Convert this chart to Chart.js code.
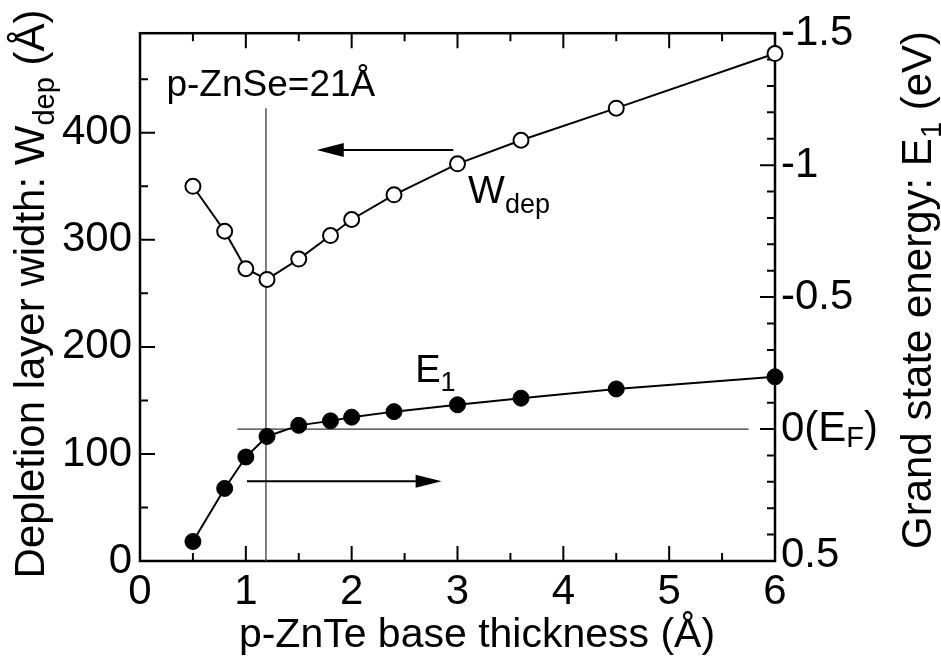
<!DOCTYPE html>
<html>
<head>
<meta charset="utf-8">
<script src="https://cdn.jsdelivr.net/npm/chart.js@4.4.0/dist/chart.umd.min.js"></script>
<style>
  html, body { margin: 0; padding: 0; background: #fff; }
  #wrap { position: relative; width: 941px; height: 657px; }
</style>
</head>
<body>
<div id="wrap"><canvas id="myChart"></canvas></div>
<script>
// data
const thickness = [0.5, 0.8, 1.0, 1.2, 1.5, 1.8, 2.0, 2.4, 3.0, 3.6, 4.5, 6.0];
const wDep = [350, 308, 273, 263, 282, 304, 319, 342, 371, 393, 423, 474];
const e1 = [0.426, 0.225, 0.106, 0.028, -0.014, -0.031, -0.045, -0.066, -0.092, -0.117, -0.152, -0.198];

// tick values / labels
const xTicks = [0, 1, 2, 3, 4, 5, 6];
const xMinor = [0.5, 1.5, 2.5, 3.5, 4.5, 5.5];
const leftTicks = [0, 100, 200, 300, 400];
const leftMinor = [50, 150, 250, 350, 450];
const rightTicks = [-1.5, -1, -0.5, 0, 0.5];
const rightTickLabels = ['-1.5', '-1', '-0.5', '0(E_{F})', '0.5'];
const rightMinor = [-1.4, -1.3, -1.2, -1.1, -0.9, -0.8, -0.7, -0.6, -0.4, -0.3, -0.2, -0.1, 0.1, 0.2, 0.3, 0.4];

// reference lines
const znSeThickness = 1.19;
const fermiLineX = [0.92, 5.75];

const FONT = '"Liberation Sans", Arial, Helvetica, sans-serif';

function richParts(str) {
  const parts = [];
  const re = /_\{([^}]*)\}/g;
  let last = 0, m;
  while ((m = re.exec(str)) !== null) {
    if (m.index > last) parts.push({ t: str.slice(last, m.index), sub: false });
    parts.push({ t: m[1], sub: true });
    last = re.lastIndex;
  }
  if (last < str.length) parts.push({ t: str.slice(last), sub: false });
  return parts;
}

function drawRich(ctx, str, x, y, size, align) {
  const parts = richParts(str);
  const subSize = Math.round(size * 0.7);
  let total = 0;
  parts.forEach(p => {
    ctx.font = (p.sub ? subSize : size) + 'px ' + FONT;
    p.w = ctx.measureText(p.t).width;
    total += p.w;
  });
  let cx = align === 'center' ? x - total / 2 : (align === 'right' ? x - total : x);
  ctx.textAlign = 'left';
  parts.forEach(p => {
    ctx.font = (p.sub ? subSize : size) + 'px ' + FONT;
    ctx.fillText(p.t, cx, p.sub ? y + size * 0.24 : y);
    cx += p.w;
  });
}

function arrow(ctx, x0, x1, y, headLen, headHalf) {
  const dir = Math.sign(x1 - x0);
  ctx.beginPath();
  ctx.moveTo(x0, y);
  ctx.lineTo(x1 - dir * headLen * 0.8, y);
  ctx.stroke();
  ctx.beginPath();
  ctx.moveTo(x1, y);
  ctx.lineTo(x1 - dir * headLen, y - headHalf);
  ctx.lineTo(x1 - dir * headLen, y + headHalf);
  ctx.closePath();
  ctx.fill();
}

const framePlugin = {
  id: 'frame',
  beforeDatasetsDraw(chart) {
    const ctx = chart.ctx;
    const a = chart.chartArea;
    const sx = chart.scales.x, sy = chart.scales.y, sy2 = chart.scales.y2;
    ctx.save();
    ctx.strokeStyle = '#000';
    ctx.lineWidth = 2.5;
    ctx.strokeRect(a.left, a.top, a.right - a.left, a.bottom - a.top);
    ctx.lineWidth = 2;
    ctx.beginPath();
    const xt = (vals, len) => vals.forEach(v => {
      const p = sx.getPixelForValue(v);
      ctx.moveTo(p, a.bottom); ctx.lineTo(p, a.bottom - len);
      ctx.moveTo(p, a.top); ctx.lineTo(p, a.top + len);
    });
    xt(xTicks, 15); xt(xMinor, 8);
    leftTicks.concat(leftMinor).forEach(v => {
      const p = sy.getPixelForValue(v);
      const len = leftTicks.includes(v) ? 15 : 8;
      ctx.moveTo(a.left, p); ctx.lineTo(a.left + len, p);
    });
    rightTicks.concat(rightMinor).forEach(v => {
      const p = sy2.getPixelForValue(v);
      const len = rightTicks.includes(v) ? 15 : 8;
      ctx.moveTo(a.right, p); ctx.lineTo(a.right - len, p);
    });
    ctx.stroke();
    ctx.restore();
  },
  afterDatasetsDraw(chart) {
    const ctx = chart.ctx;
    const a = chart.chartArea;
    const sx = chart.scales.x, sy = chart.scales.y, sy2 = chart.scales.y2;
    ctx.save();
    ctx.fillStyle = '#000';
    ctx.strokeStyle = '#000';
    ctx.lineWidth = 2;
    // arrows pointing to each axis
    arrow(ctx, sx.getPixelForValue(2.96), sx.getPixelForValue(1.67), sy.getPixelForValue(384), 27, 7);
    arrow(ctx, sx.getPixelForValue(1.01), sx.getPixelForValue(2.85), sy2.getPixelForValue(0.198), 26, 6.5);
    // in-plot labels
    ctx.textBaseline = 'alphabetic';
    drawRich(ctx, 'p-ZnSe=21Å', sx.getPixelForValue(0.25), sy.getPixelForValue(434), 37, 'left');
    drawRich(ctx, 'W_{dep}', sx.getPixelForValue(3.1), sy.getPixelForValue(334), 39, 'left');
    drawRich(ctx, 'E_{1}', sx.getPixelForValue(2.6), sy2.getPixelForValue(-0.178), 38, 'left');
    // right axis tick labels
    ctx.textBaseline = 'middle';
    rightTicks.forEach((v, i) => {
      let p = sy2.getPixelForValue(v);
      if (v === 0.5) p -= 6;
      drawRich(ctx, rightTickLabels[i], a.right + 6, p, 42, 'left');
    });
    ctx.restore();
  },
  afterDraw(chart) {
    const ctx = chart.ctx;
    ctx.save();
    ctx.fillStyle = '#000';
    ctx.textBaseline = 'alphabetic';
    drawRich(ctx, 'p-ZnTe base thickness (Å)', 477, 647, 41, 'center');
    ctx.translate(44, 294);
    ctx.rotate(-Math.PI / 2);
    drawRich(ctx, 'Depletion layer width: W_{dep} (Å)', 0, 0, 42, 'center');
    ctx.restore();
    ctx.save();
    ctx.fillStyle = '#000';
    ctx.textBaseline = 'alphabetic';
    ctx.translate(931, 290);
    ctx.rotate(-Math.PI / 2);
    drawRich(ctx, 'Grand state energy: E_{1} (eV)', 0, 0, 42, 'center');
    ctx.restore();
  }
};

document.addEventListener('DOMContentLoaded', function() {
  const ctx = document.getElementById('myChart').getContext('2d');

  const wPoints = thickness.map((t, i) => ({ x: t, y: wDep[i] }));
  const ePoints = thickness.map((t, i) => ({ x: t, y: e1[i] }));

  const myChart = new Chart(ctx, {
    type: 'line',
    data: {
      datasets: [
        {
          label: 'W_dep',
          data: wPoints,
          yAxisID: 'y',
          borderColor: '#000',
          borderWidth: 2,
          pointRadius: 7.5,
          pointBorderWidth: 2,
          pointBackgroundColor: '#fff',
          pointBorderColor: '#000',
          clip: false,
          order: 0
        },
        {
          label: 'E1',
          data: ePoints,
          yAxisID: 'y2',
          borderColor: '#000',
          borderWidth: 2,
          pointRadius: 8,
          pointBorderWidth: 1,
          pointBackgroundColor: '#000',
          pointBorderColor: '#000',
          clip: false,
          order: 0
        },
        {
          label: 'p-ZnSe',
          data: [{ x: znSeThickness, y: 0 }, { x: znSeThickness, y: 423 }],
          yAxisID: 'y',
          borderColor: '#555',
          borderWidth: 1.5,
          pointRadius: 0,
          order: 5
        },
        {
          label: 'EF',
          data: [{ x: fermiLineX[0], y: 0 }, { x: fermiLineX[1], y: 0 }],
          yAxisID: 'y2',
          borderColor: '#333',
          borderWidth: 1.2,
          pointRadius: 0,
          order: 5
        }
      ]
    },
    options: {
      responsive: true,
      maintainAspectRatio: false,
      animation: false,
      layout: { padding: { top: 31, left: 0, right: 0, bottom: 0 } },
      plugins: { legend: { display: false }, tooltip: { enabled: false } },
      elements: { line: { tension: 0 } },
      scales: {
        x: {
          type: 'linear',
          min: 0,
          max: 6,
          grid: { display: false, drawTicks: false },
          border: { display: false },
          afterBuildTicks: s => { s.ticks = xTicks.map(v => ({ value: v })); },
          afterFit: s => { s.height = 96; },
          ticks: { color: '#000', padding: 6, maxRotation: 0, font: { size: 42, family: FONT } }
        },
        y: {
          type: 'linear',
          position: 'left',
          min: 0,
          max: 493,
          grid: { display: false, drawTicks: false },
          border: { display: false },
          afterBuildTicks: s => { s.ticks = leftTicks.map(v => ({ value: v })); },
          afterFit: s => { s.width = 140; },
          ticks: { color: '#000', padding: 8, font: { size: 42, family: FONT } }
        },
        y2: {
          type: 'linear',
          position: 'right',
          min: -1.5,
          max: 0.5,
          reverse: true,
          grid: { display: false, drawTicks: false },
          border: { display: false },
          afterFit: s => { s.width = 166; },
          ticks: { display: false }
        }
      }
    },
    plugins: [framePlugin]
  });
});
</script>
</body>
</html>
